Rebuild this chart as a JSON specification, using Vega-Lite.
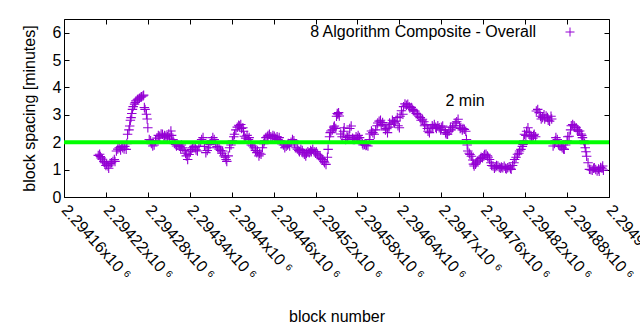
{
"$schema": "https://vega.github.io/schema/vega-lite/v6.json",
"width": 545, "height": 178,
"autosize": {"type": "none"},
"padding": {"left": 64, "top": 19, "right": 31, "bottom": 133},
"background": "white",
"config": {
  "view": {"stroke": "black", "strokeWidth": 1},
  "font": "Liberation Sans",
  "axis": {"labelFont": "Liberation Sans", "labelFontSize": 16, "labelColor": "black", "titleFont": "Liberation Sans", "titleFontSize": 16, "titleFontWeight": "normal", "titleColor": "black", "tickColor": "black", "grid": false, "domain": false},
  "legend": {"labelFont": "Liberation Sans", "labelFontSize": 16, "labelColor": "black"}
},
"datasets": {
"pts": [
{"block":2294209,"spacing":1.52},{"block":2294211,"spacing":1.56},{"block":2294212,"spacing":1.48},{"block":2294213,"spacing":1.43},{"block":2294215,"spacing":1.38},{"block":2294217,"spacing":1.30},{"block":2294218,"spacing":1.25},{"block":2294220,"spacing":1.15},{"block":2294221,"spacing":1.20},{"block":2294223,"spacing":1.13},{"block":2294224,"spacing":1.05},{"block":2294226,"spacing":1.22},{"block":2294228,"spacing":1.25},{"block":2294230,"spacing":1.30},{"block":2294232,"spacing":1.37},{"block":2294233,"spacing":1.30},{"block":2294235,"spacing":1.68},{"block":2294237,"spacing":1.75},{"block":2294239,"spacing":1.80},{"block":2294241,"spacing":1.72},{"block":2294242,"spacing":1.85},{"block":2294244,"spacing":1.80},{"block":2294246,"spacing":1.75},{"block":2294247,"spacing":1.85},{"block":2294249,"spacing":1.74},{"block":2294250,"spacing":1.95},{"block":2294251,"spacing":2.29},{"block":2294253,"spacing":2.45},{"block":2294254,"spacing":2.59},{"block":2294255,"spacing":2.80},{"block":2294256,"spacing":2.90},{"block":2294257,"spacing":3.05},{"block":2294258,"spacing":3.20},{"block":2294259,"spacing":3.30},{"block":2294261,"spacing":3.39},{"block":2294262,"spacing":3.45},{"block":2294263,"spacing":3.51},{"block":2294265,"spacing":3.55},{"block":2294266,"spacing":3.58},{"block":2294268,"spacing":3.61},{"block":2294270,"spacing":3.64},{"block":2294271,"spacing":3.66},{"block":2294273,"spacing":3.69},{"block":2294274,"spacing":3.72},{"block":2294275,"spacing":3.27},{"block":2294276,"spacing":3.20},{"block":2294278,"spacing":3.02},{"block":2294279,"spacing":2.85},{"block":2294280,"spacing":2.53},{"block":2294282,"spacing":2.10},{"block":2294284,"spacing":2.05},{"block":2294285,"spacing":1.95},{"block":2294287,"spacing":1.86},{"block":2294289,"spacing":1.90},{"block":2294291,"spacing":2.05},{"block":2294293,"spacing":2.15},{"block":2294295,"spacing":2.25},{"block":2294297,"spacing":2.22},{"block":2294299,"spacing":2.30},{"block":2294301,"spacing":2.29},{"block":2294303,"spacing":2.18},{"block":2294304,"spacing":2.25},{"block":2294306,"spacing":2.22},{"block":2294308,"spacing":2.20},{"block":2294310,"spacing":2.30},{"block":2294311,"spacing":2.15},{"block":2294313,"spacing":2.41},{"block":2294314,"spacing":2.25},{"block":2294316,"spacing":2.10},{"block":2294318,"spacing":1.95},{"block":2294320,"spacing":1.92},{"block":2294321,"spacing":1.86},{"block":2294323,"spacing":1.90},{"block":2294325,"spacing":1.85},{"block":2294327,"spacing":1.75},{"block":2294328,"spacing":1.90},{"block":2294330,"spacing":1.80},{"block":2294332,"spacing":1.70},{"block":2294334,"spacing":1.60},{"block":2294335,"spacing":1.50},{"block":2294337,"spacing":1.37},{"block":2294339,"spacing":1.55},{"block":2294341,"spacing":1.65},{"block":2294342,"spacing":1.74},{"block":2294344,"spacing":1.80},{"block":2294346,"spacing":1.85},{"block":2294348,"spacing":1.80},{"block":2294349,"spacing":1.72},{"block":2294351,"spacing":1.68},{"block":2294353,"spacing":1.85},{"block":2294355,"spacing":2.00},{"block":2294357,"spacing":2.10},{"block":2294359,"spacing":2.17},{"block":2294361,"spacing":1.85},{"block":2294363,"spacing":1.62},{"block":2294365,"spacing":1.70},{"block":2294367,"spacing":1.80},{"block":2294369,"spacing":1.92},{"block":2294371,"spacing":2.05},{"block":2294373,"spacing":2.17},{"block":2294375,"spacing":2.10},{"block":2294377,"spacing":1.95},{"block":2294379,"spacing":1.85},{"block":2294380,"spacing":1.80},{"block":2294382,"spacing":1.75},{"block":2294384,"spacing":1.70},{"block":2294386,"spacing":1.60},{"block":2294387,"spacing":1.68},{"block":2294389,"spacing":1.50},{"block":2294391,"spacing":1.45},{"block":2294392,"spacing":1.37},{"block":2294393,"spacing":1.30},{"block":2294395,"spacing":1.50},{"block":2294397,"spacing":1.80},{"block":2294399,"spacing":1.90},{"block":2294401,"spacing":2.05},{"block":2294403,"spacing":2.20},{"block":2294404,"spacing":2.29},{"block":2294406,"spacing":2.45},{"block":2294408,"spacing":2.55},{"block":2294410,"spacing":2.62},{"block":2294411,"spacing":2.59},{"block":2294413,"spacing":2.65},{"block":2294414,"spacing":2.50},{"block":2294416,"spacing":2.53},{"block":2294417,"spacing":2.40},{"block":2294418,"spacing":2.22},{"block":2294420,"spacing":2.15},{"block":2294422,"spacing":2.25},{"block":2294424,"spacing":2.10},{"block":2294425,"spacing":2.17},{"block":2294427,"spacing":2.00},{"block":2294428,"spacing":1.90},{"block":2294430,"spacing":1.86},{"block":2294432,"spacing":1.80},{"block":2294434,"spacing":1.70},{"block":2294436,"spacing":1.62},{"block":2294437,"spacing":1.68},{"block":2294439,"spacing":1.50},{"block":2294440,"spacing":1.60},{"block":2294442,"spacing":1.56},{"block":2294444,"spacing":1.80},{"block":2294446,"spacing":1.95},{"block":2294447,"spacing":2.05},{"block":2294449,"spacing":2.17},{"block":2294451,"spacing":2.20},{"block":2294452,"spacing":2.25},{"block":2294454,"spacing":2.29},{"block":2294456,"spacing":2.20},{"block":2294458,"spacing":2.15},{"block":2294459,"spacing":2.25},{"block":2294461,"spacing":2.22},{"block":2294463,"spacing":2.15},{"block":2294465,"spacing":2.20},{"block":2294466,"spacing":2.10},{"block":2294468,"spacing":2.17},{"block":2294470,"spacing":2.05},{"block":2294472,"spacing":1.95},{"block":2294474,"spacing":1.90},{"block":2294476,"spacing":1.80},{"block":2294478,"spacing":1.85},{"block":2294480,"spacing":1.90},{"block":2294481,"spacing":1.95},{"block":2294483,"spacing":1.86},{"block":2294485,"spacing":2.00},{"block":2294487,"spacing":2.10},{"block":2294489,"spacing":2.05},{"block":2294490,"spacing":1.95},{"block":2294492,"spacing":1.80},{"block":2294494,"spacing":1.75},{"block":2294496,"spacing":1.70},{"block":2294497,"spacing":1.65},{"block":2294499,"spacing":1.74},{"block":2294501,"spacing":1.70},{"block":2294502,"spacing":1.62},{"block":2294504,"spacing":1.56},{"block":2294506,"spacing":1.50},{"block":2294507,"spacing":1.60},{"block":2294509,"spacing":1.65},{"block":2294511,"spacing":1.62},{"block":2294513,"spacing":1.70},{"block":2294514,"spacing":1.65},{"block":2294516,"spacing":1.74},{"block":2294518,"spacing":1.65},{"block":2294520,"spacing":1.60},{"block":2294521,"spacing":1.65},{"block":2294523,"spacing":1.56},{"block":2294525,"spacing":1.50},{"block":2294527,"spacing":1.45},{"block":2294528,"spacing":1.40},{"block":2294530,"spacing":1.37},{"block":2294532,"spacing":1.30},{"block":2294533,"spacing":1.25},{"block":2294535,"spacing":1.19},{"block":2294537,"spacing":1.45},{"block":2294538,"spacing":1.74},{"block":2294540,"spacing":2.20},{"block":2294541,"spacing":2.35},{"block":2294542,"spacing":2.41},{"block":2294544,"spacing":2.45},{"block":2294546,"spacing":2.55},{"block":2294547,"spacing":2.59},{"block":2294549,"spacing":2.50},{"block":2294550,"spacing":2.95},{"block":2294551,"spacing":3.05},{"block":2294552,"spacing":3.02},{"block":2294553,"spacing":3.08},{"block":2294554,"spacing":2.96},{"block":2294556,"spacing":2.30},{"block":2294558,"spacing":2.20},{"block":2294560,"spacing":2.40},{"block":2294561,"spacing":2.53},{"block":2294563,"spacing":2.10},{"block":2294565,"spacing":2.20},{"block":2294566,"spacing":2.17},{"block":2294568,"spacing":2.25},{"block":2294569,"spacing":2.50},{"block":2294571,"spacing":2.59},{"block":2294573,"spacing":2.15},{"block":2294574,"spacing":2.10},{"block":2294576,"spacing":2.10},{"block":2294578,"spacing":2.20},{"block":2294580,"spacing":2.15},{"block":2294581,"spacing":2.25},{"block":2294583,"spacing":2.17},{"block":2294585,"spacing":2.05},{"block":2294587,"spacing":1.95},{"block":2294588,"spacing":1.90},{"block":2294590,"spacing":1.92},{"block":2294592,"spacing":1.88},{"block":2294593,"spacing":1.90},{"block":2294595,"spacing":1.86},{"block":2294597,"spacing":2.10},{"block":2294598,"spacing":2.30},{"block":2294600,"spacing":2.41},{"block":2294602,"spacing":2.35},{"block":2294604,"spacing":2.29},{"block":2294606,"spacing":2.45},{"block":2294608,"spacing":2.60},{"block":2294609,"spacing":2.70},{"block":2294611,"spacing":2.77},{"block":2294613,"spacing":2.80},{"block":2294614,"spacing":2.65},{"block":2294616,"spacing":2.72},{"block":2294618,"spacing":2.60},{"block":2294620,"spacing":2.45},{"block":2294621,"spacing":2.50},{"block":2294623,"spacing":2.35},{"block":2294625,"spacing":2.55},{"block":2294626,"spacing":2.70},{"block":2294628,"spacing":2.65},{"block":2294630,"spacing":2.80},{"block":2294632,"spacing":2.75},{"block":2294633,"spacing":2.70},{"block":2294635,"spacing":2.77},{"block":2294637,"spacing":2.90},{"block":2294638,"spacing":2.60},{"block":2294640,"spacing":2.53},{"block":2294641,"spacing":2.95},{"block":2294643,"spacing":3.15},{"block":2294645,"spacing":3.02},{"block":2294646,"spacing":3.30},{"block":2294648,"spacing":3.40},{"block":2294650,"spacing":3.35},{"block":2294652,"spacing":3.39},{"block":2294654,"spacing":3.30},{"block":2294655,"spacing":3.25},{"block":2294657,"spacing":3.27},{"block":2294659,"spacing":3.20},{"block":2294660,"spacing":3.15},{"block":2294662,"spacing":3.14},{"block":2294664,"spacing":3.05},{"block":2294666,"spacing":3.02},{"block":2294668,"spacing":2.95},{"block":2294670,"spacing":2.90},{"block":2294671,"spacing":2.80},{"block":2294673,"spacing":2.84},{"block":2294675,"spacing":2.75},{"block":2294676,"spacing":2.60},{"block":2294678,"spacing":2.65},{"block":2294680,"spacing":2.50},{"block":2294681,"spacing":2.40},{"block":2294683,"spacing":2.35},{"block":2294685,"spacing":2.50},{"block":2294687,"spacing":2.60},{"block":2294688,"spacing":2.55},{"block":2294690,"spacing":2.65},{"block":2294692,"spacing":2.55},{"block":2294693,"spacing":2.50},{"block":2294695,"spacing":2.60},{"block":2294697,"spacing":2.53},{"block":2294699,"spacing":2.45},{"block":2294700,"spacing":2.55},{"block":2294702,"spacing":2.59},{"block":2294704,"spacing":2.45},{"block":2294706,"spacing":2.35},{"block":2294707,"spacing":2.30},{"block":2294709,"spacing":2.29},{"block":2294711,"spacing":2.40},{"block":2294713,"spacing":2.55},{"block":2294714,"spacing":2.45},{"block":2294716,"spacing":2.53},{"block":2294718,"spacing":2.60},{"block":2294720,"spacing":2.70},{"block":2294722,"spacing":2.75},{"block":2294724,"spacing":2.84},{"block":2294726,"spacing":2.60},{"block":2294727,"spacing":2.50},{"block":2294728,"spacing":2.53},{"block":2294730,"spacing":2.45},{"block":2294731,"spacing":2.50},{"block":2294733,"spacing":2.47},{"block":2294735,"spacing":2.40},{"block":2294736,"spacing":2.10},{"block":2294737,"spacing":1.90},{"block":2294738,"spacing":1.68},{"block":2294740,"spacing":1.60},{"block":2294741,"spacing":1.55},{"block":2294743,"spacing":1.49},{"block":2294745,"spacing":1.35},{"block":2294746,"spacing":1.20},{"block":2294747,"spacing":1.13},{"block":2294749,"spacing":1.20},{"block":2294750,"spacing":1.25},{"block":2294752,"spacing":1.31},{"block":2294754,"spacing":1.35},{"block":2294756,"spacing":1.40},{"block":2294757,"spacing":1.45},{"block":2294759,"spacing":1.43},{"block":2294761,"spacing":1.50},{"block":2294762,"spacing":1.55},{"block":2294764,"spacing":1.56},{"block":2294766,"spacing":1.50},{"block":2294767,"spacing":1.45},{"block":2294769,"spacing":1.37},{"block":2294771,"spacing":1.25},{"block":2294772,"spacing":1.15},{"block":2294774,"spacing":1.13},{"block":2294776,"spacing":1.05},{"block":2294778,"spacing":1.10},{"block":2294779,"spacing":1.15},{"block":2294781,"spacing":1.13},{"block":2294783,"spacing":1.08},{"block":2294785,"spacing":1.05},{"block":2294786,"spacing":1.10},{"block":2294788,"spacing":1.07},{"block":2294790,"spacing":1.12},{"block":2294792,"spacing":1.05},{"block":2294793,"spacing":1.02},{"block":2294795,"spacing":1.07},{"block":2294797,"spacing":1.10},{"block":2294799,"spacing":1.05},{"block":2294800,"spacing":1.01},{"block":2294802,"spacing":1.15},{"block":2294804,"spacing":1.25},{"block":2294805,"spacing":1.37},{"block":2294807,"spacing":1.45},{"block":2294809,"spacing":1.56},{"block":2294811,"spacing":1.60},{"block":2294812,"spacing":1.68},{"block":2294814,"spacing":1.74},{"block":2294816,"spacing":1.85},{"block":2294817,"spacing":1.92},{"block":2294818,"spacing":2.05},{"block":2294819,"spacing":2.29},{"block":2294821,"spacing":2.25},{"block":2294822,"spacing":2.40},{"block":2294824,"spacing":2.53},{"block":2294826,"spacing":2.35},{"block":2294827,"spacing":2.20},{"block":2294829,"spacing":2.22},{"block":2294831,"spacing":2.15},{"block":2294832,"spacing":2.25},{"block":2294833,"spacing":2.29},{"block":2294835,"spacing":2.20},{"block":2294836,"spacing":3.14},{"block":2294838,"spacing":3.20},{"block":2294840,"spacing":3.08},{"block":2294842,"spacing":2.95},{"block":2294843,"spacing":2.85},{"block":2294845,"spacing":2.90},{"block":2294847,"spacing":3.00},{"block":2294848,"spacing":2.85},{"block":2294850,"spacing":2.96},{"block":2294852,"spacing":2.90},{"block":2294853,"spacing":2.80},{"block":2294855,"spacing":2.77},{"block":2294857,"spacing":2.95},{"block":2294858,"spacing":2.85},{"block":2294860,"spacing":1.86},{"block":2294862,"spacing":1.95},{"block":2294863,"spacing":2.05},{"block":2294864,"spacing":2.17},{"block":2294866,"spacing":2.10},{"block":2294868,"spacing":1.90},{"block":2294870,"spacing":1.85},{"block":2294872,"spacing":1.86},{"block":2294873,"spacing":1.80},{"block":2294875,"spacing":1.75},{"block":2294876,"spacing":1.74},{"block":2294878,"spacing":1.90},{"block":2294880,"spacing":2.05},{"block":2294881,"spacing":2.20},{"block":2294883,"spacing":2.22},{"block":2294885,"spacing":2.45},{"block":2294886,"spacing":2.60},{"block":2294888,"spacing":2.65},{"block":2294890,"spacing":2.60},{"block":2294891,"spacing":2.55},{"block":2294893,"spacing":2.53},{"block":2294895,"spacing":2.45},{"block":2294896,"spacing":2.40},{"block":2294898,"spacing":2.41},{"block":2294900,"spacing":2.30},{"block":2294901,"spacing":2.25},{"block":2294902,"spacing":2.17},{"block":2294904,"spacing":2.05},{"block":2294905,"spacing":1.95},{"block":2294906,"spacing":1.80},{"block":2294907,"spacing":1.65},{"block":2294908,"spacing":1.49},{"block":2294910,"spacing":1.25},{"block":2294912,"spacing":1.01},{"block":2294914,"spacing":1.00},{"block":2294916,"spacing":0.98},{"block":2294918,"spacing":1.05},{"block":2294919,"spacing":1.07},{"block":2294921,"spacing":1.00},{"block":2294923,"spacing":0.95},{"block":2294925,"spacing":1.02},{"block":2294926,"spacing":0.94},{"block":2294928,"spacing":1.08},{"block":2294930,"spacing":1.05},{"block":2294931,"spacing":1.13},{"block":2294932,"spacing":0.98}
]
},
"layer": [
  {
    "data": {"name": "pts"},
    "mark": {"type": "point", "shape": "M-1,0H1M0,-1V1", "filled": false, "strokeWidth": 1.1, "size": 90, "opacity": 1},
    "encoding": {
      "x": {"field": "block", "type": "quantitative",
        "scale": {"domain": [2294160, 2294940], "nice": false, "zero": false},
        "axis": {"orient": "bottom", "values": [2294160,2294220,2294280,2294340,2294400,2294460,2294520,2294580,2294640,2294700,2294760,2294820,2294880,2294940],
          "labelExpr": "format(datum.value/1000000, '.5~f') + 'x10 ⁶'",
          "labelAngle": 48, "labelAlign": "left", "labelBaseline": "middle", "labelPadding": 15,
          "labelFlush": false, "labelOverlap": false, "labelBound": false,
          "tickSize": -5, "title": "block number", "titlePadding": 26}},
      "y": {"field": "spacing", "type": "quantitative",
        "scale": {"domain": [0, 6.5], "nice": false, "zero": true},
        "axis": {"orient": "left", "values": [0,1,2,3,4,5,6], "tickSize": -5, "labelPadding": 8, "title": "block spacing [minutes]", "titlePadding": 15}},
      "color": {"datum": "8 Algorithm Composite - Overall", "type": "nominal",
        "scale": {"range": ["#9400d3"]},
        "legend": {"title": null, "orient": "none", "legendX": 498, "legendY": 5, "padding": 0,
          "symbolType": "M-1,0H1M0,-1V1", "symbolSize": 81, "symbolStrokeWidth": 1, "symbolFillColor": "transparent", "symbolStrokeColor": "#9400d3",
          "labelAlign": "right", "labelOffset": -42, "labelFontSize": 16, "labelLimit": 400}}
    }
  },
  {
    "data": {"values": [{"level": 2}]},
    "mark": {"type": "rule", "color": "#00ff00", "strokeWidth": 4},
    "encoding": {"y": {"field": "level", "type": "quantitative", "axis": null}}
  },
  {
    "data": {"values": [{"block": 2294734, "spacing": 3.51, "label": "2 min"}]},
    "mark": {"type": "text", "fontSize": 16, "font": "Liberation Sans", "color": "black", "align": "center", "baseline": "middle"},
    "encoding": {
      "x": {"field": "block", "type": "quantitative",
        "axis": {"orient": "top", "values": [2294160,2294220,2294280,2294340,2294400,2294460,2294520,2294580,2294640,2294700,2294760,2294820,2294880,2294940], "labels": false, "tickSize": -5, "title": null}},
      "y": {"field": "spacing", "type": "quantitative",
        "axis": {"orient": "right", "values": [0,1,2,3,4,5,6], "labels": false, "tickSize": -5, "title": null}},
      "text": {"field": "label"}
    }
  }
],
"resolve": {"axis": {"x": "independent", "y": "independent"}}
}
